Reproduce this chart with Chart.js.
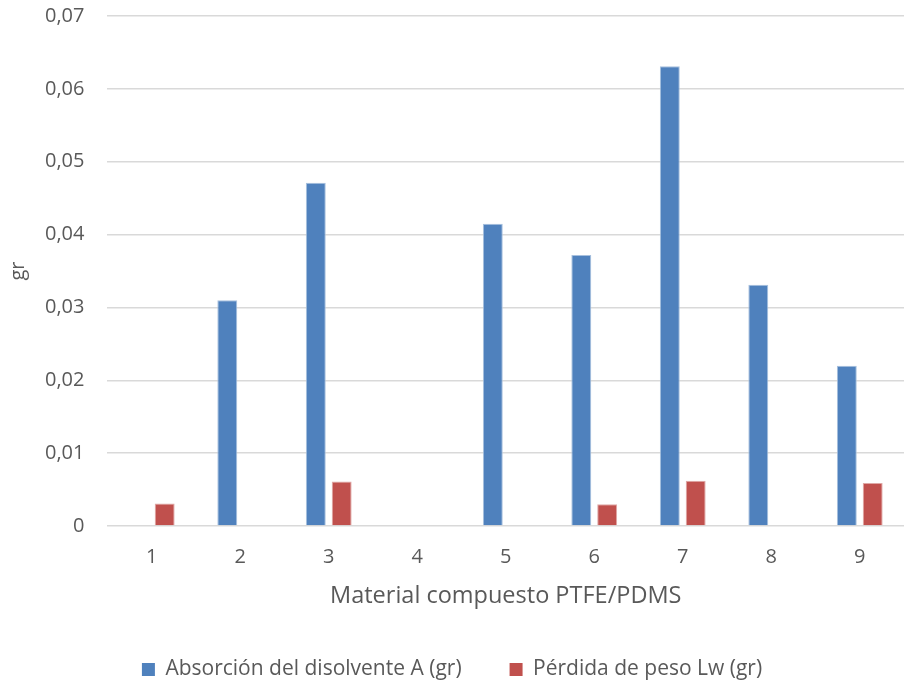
<!DOCTYPE html>
<html>
<head>
<meta charset="utf-8">
<script src="https://cdn.jsdelivr.net/npm/chart.js@4.4.1/dist/chart.umd.min.js"></script>
<style>
  html, body { margin: 0; padding: 0; background: #ffffff; }
  #wrap { width: 904px; height: 681px; }
</style>
</head>
<body>
<div id="wrap"><canvas id="c" width="904" height="681"></canvas></div>
<script>
// Muestras de material compuesto PTFE/PDMS
const categories = ['1', '2', '3', '4', '5', '6', '7', '8', '9'];
// Absorción del disolvente A (gr)
const absorcion = [0, 0.031, 0.0471, 0, 0.0415, 0.0372, 0.0631, 0.0331, 0.022];
// Pérdida de peso Lw (gr)
const perdida = [0.0031, 0, 0.0061, 0, 0, 0.003, 0.0062, 0, 0.0059];
const yTicks = [0, 0.01, 0.02, 0.03, 0.04, 0.05, 0.06, 0.07];

const seriesNames = ['Absorción del disolvente A (gr)', 'Pérdida de peso Lw (gr)'];
const FONT = '"Open Sans", "Liberation Sans", sans-serif';
const TEXT = '#595959';

new Chart(document.getElementById('c'), {
  type: 'bar',
  data: {
    labels: categories,
    datasets: [
      {
        label: seriesNames[0],
        data: absorcion,
        backgroundColor: '#4F81BD',
        borderColor: '#A7C0DE',
        borderWidth: 1,
        categoryPercentage: 0.585,
        barPercentage: 0.77
      },
      {
        label: seriesNames[1],
        data: perdida,
        backgroundColor: '#C0504D',
        borderColor: '#DFA8A6',
        borderWidth: 1,
        categoryPercentage: 0.585,
        barPercentage: 0.77
      }
    ]
  },
  options: {
    responsive: false,
    animation: false,
    devicePixelRatio: 1,
    layout: { padding: { top: 1, right: 0, bottom: -9, left: 0 } },
    plugins: {
      tooltip: { enabled: false },
      legend: {
        position: 'bottom',
        labels: {
          font: { family: FONT, size: 21 },
          color: TEXT,
          boxWidth: 13,
          boxHeight: 13,
          padding: 48,
          generateLabels(chart) {
            return chart.data.datasets.map((ds, i) => ({
              text: ds.label,
              fillStyle: ds.backgroundColor,
              strokeStyle: ds.backgroundColor,
              lineWidth: 0,
              fontColor: TEXT,
              datasetIndex: i,
              hidden: false
            }));
          }
        }
      }
    },
    scales: {
      x: {
        grid: { display: false, drawTicks: false },
        border: { display: false },
        ticks: {
          font: { family: FONT, size: 20 },
          color: TEXT,
          padding: 19
        },
        title: {
          display: true,
          text: 'Material compuesto PTFE/PDMS',
          font: { family: FONT, size: 23.5 },
          color: TEXT,
          padding: { top: -5.7, bottom: 0.5 }
        }
      },
      y: {
        min: 0,
        max: 0.07,
        afterBuildTicks(axis) {
          axis.ticks = yTicks.map(v => ({ value: v }));
        },
        grid: {
          color: '#D9D9D9',
          lineWidth: 1.5,
          drawTicks: true,
          tickLength: 19,
          tickColor: 'rgba(0,0,0,0)'
        },
        border: { display: false },
        ticks: {
          font: { family: FONT, size: 20 },
          color: TEXT,
          padding: 4,
          callback: v => (v === 0 ? '0' : v.toFixed(2).replace('.', ','))
        },
        title: {
          display: true,
          text: 'gr',
          font: { family: FONT, size: 20 },
          color: TEXT,
          padding: { top: 6, bottom: 11 }
        }
      }
    }
  }
});
</script>
</body>
</html>
